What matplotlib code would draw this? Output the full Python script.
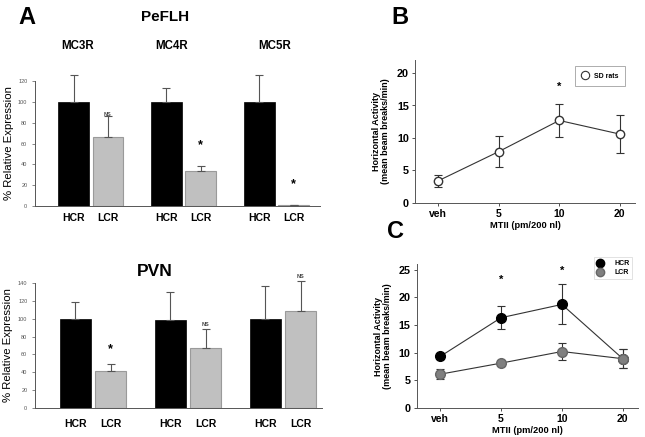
import matplotlib.pyplot as plt
from matplotlib.lines import Line2D
import numpy as np

plt.rcParams['font.family'] = ['Liberation Sans', 'DejaVu Sans']

# ---- Panel A data (% relative expression) ----
receptors = ['MC3R', 'MC4R', 'MC5R']
groups = ['HCR', 'LCR']

peflh_hcr = [100, 100, 100]
peflh_hcr_err = [26, 13.5, 26]
peflh_lcr = [66, 34, 0.5]
peflh_lcr_err = [20, 4.5, 0.3]
peflh_marks = ['NS', '*', '*']
peflh_mark_y = [88, 58, 21]

pvn_hcr = [100, 99, 100]
pvn_hcr_err = [18.5, 31, 37]
pvn_lcr = [41.5, 67, 109]
pvn_lcr_err = [7.5, 21, 33.5]
pvn_marks = ['*', 'NS', 'NS']
pvn_mark_y = [66, 94, 147]

# ---- Panels B and C data (horizontal activity) ----
doses = ['veh', '5', '10', '20']
sd_mean = [3.4, 7.9, 12.7, 10.6]
sd_err = [0.9, 2.4, 2.6, 2.9]

hcr_mean = [9.3, 16.3, 18.7, 8.9]
hcr_err = [0.4, 2.1, 3.6, 1.7]
lcr_mean = [6.1, 8.1, 10.2, 8.9]
lcr_err = [0.9, 0.5, 1.6, 1.7]

W, H = 645, 437
fig = plt.figure(figsize=(W / 100, H / 100), dpi=100)


def px_axes(left, top, right, bottom):
    return fig.add_axes([left / W, 1 - bottom / H, (right - left) / W, (bottom - top) / H])


def bar_panel(ax, hcr, hcr_err, lcr, lcr_err, marks, mark_y, ymax, xlim):
    x = np.arange(len(receptors))
    off, w = 0.185, 0.33
    ax.bar(x - off, hcr, w, color='black', edgecolor='black', linewidth=0.5)
    ax.bar(x + off, lcr, w, color='#c0c0c0', edgecolor='#9a9a9a', linewidth=0.8)
    ax.errorbar(x - off, hcr, yerr=[[0] * len(hcr), hcr_err], fmt='none', ecolor='#555555',
                elinewidth=0.8, capsize=3, capthick=0.8, clip_on=False)
    ax.errorbar(x + off, lcr, yerr=[[0] * len(lcr), lcr_err], fmt='none', ecolor='#555555',
                elinewidth=0.8, capsize=3, capthick=0.8, clip_on=False)
    for xi, m, my in zip(x, marks, mark_y):
        if m == '*':
            ax.text(xi + off, my, m, ha='center', va='center', fontsize=9, fontweight='bold')
        else:
            ax.text(xi + off, my, m, ha='center', va='center', fontsize=4, fontweight='bold', color='#444')
    ax.set_ylim(0, ymax)
    ax.set_xlim(*xlim)
    ax.set_xticks(np.concatenate([x - off, x + off]))
    ax.set_xticklabels(['HCR'] * 3 + ['LCR'] * 3, fontsize=7.5, fontweight='bold')
    ax.tick_params(axis='x', length=0, pad=5)
    ax.tick_params(axis='y', labelsize=4, colors='#555555', length=2, width=0.5)
    for s in ['top', 'right']:
        ax.spines[s].set_visible(False)
    for s in ['left', 'bottom']:
        ax.spines[s].set_color('#555555')
        ax.spines[s].set_linewidth(0.7)
    ax.set_ylabel('% Relative Expression', fontsize=8.2)
    ax.yaxis.set_label_coords(-0.075, 0.5)


# Panel A top: PeFLH
ax1 = px_axes(35, 81, 320, 206)
bar_panel(ax1, peflh_hcr, peflh_hcr_err, peflh_lcr, peflh_lcr_err,
          peflh_marks, peflh_mark_y, 120, (-0.6, 2.47))
ax1.set_yticks(range(0, 121, 20))

# Panel A bottom: PVN
ax2 = px_axes(35, 283, 322, 408)
bar_panel(ax2, pvn_hcr, pvn_hcr_err, pvn_lcr, pvn_lcr_err,
          pvn_marks, pvn_mark_y, 140, (-0.61, 2.41))
ax2.set_yticks(range(0, 141, 20))
ax2.tick_params(axis='x', pad=8)

fig.text(27 / W, 1 - 17 / H, 'A', fontsize=17, fontweight='bold', ha='center', va='center')
fig.text(165 / W, 1 - 17 / H, 'PeFLH', fontsize=11, fontweight='bold', ha='center', va='center')
for name, xp in zip(receptors, [78, 172, 275]):
    fig.text(xp / W, 1 - 46 / H, name, fontsize=8.3, fontweight='bold', ha='center', va='center')
fig.text(155 / W, 1 - 271 / H, 'PVN', fontsize=12.5, fontweight='bold', ha='center', va='center')


def line_panel(ax, ymax, yticks):
    ax.set_xlim(-0.38, 3.25)
    ax.set_ylim(0, ymax)
    ax.set_xticks(range(len(doses)))
    ax.set_xticklabels(doses, fontsize=7.5, fontweight='bold')
    ax.set_yticks(yticks)
    ax.set_yticklabels([str(t) for t in yticks], fontsize=7.8, fontweight='bold')
    ax.tick_params(length=2.5, width=0.6, colors='#333333', labelcolor='black', pad=2)
    for s in ['top', 'right']:
        ax.spines[s].set_visible(False)
    for s in ['left', 'bottom']:
        ax.spines[s].set_color('#555555')
        ax.spines[s].set_linewidth(0.7)
    ax.set_xlabel('MTII (pm/200 nl)', fontsize=6.7, fontweight='bold', labelpad=1)
    ax.set_ylabel('Horizontal Activity\n(mean beam breaks/min)', fontsize=6.5,
                  fontweight='bold', labelpad=5, linespacing=1.0)


# Panel B: SD rats
x = np.arange(len(doses))
ax3 = px_axes(415, 60, 635, 203)
ax3.errorbar(x, sd_mean, yerr=sd_err, fmt='-o', color='#333333', mfc='white', mec='#333333',
             ms=6, lw=0.8, elinewidth=0.8, capsize=3, capthick=0.8)
ax3.text(2, 17.9, '*', ha='center', va='center', fontsize=8, fontweight='bold')
line_panel(ax3, 22, [0, 5, 10, 15, 20])
sd_handle = Line2D([], [], ls='none', marker='o', mfc='white', mec='#333333', ms=6, mew=0.8)
leg = ax3.legend([sd_handle], ['SD rats'], loc='upper right', bbox_to_anchor=(0.97, 0.98),
                 frameon=True, fancybox=False, edgecolor='#888888', handlelength=1.0,
                 borderpad=0.9, prop={'size': 5, 'weight': 'bold'})
leg.get_frame().set_linewidth(0.6)
fig.text(400 / W, 1 - 17 / H, 'B', fontsize=17, fontweight='bold', ha='center', va='center')

# Panel C: HCR vs LCR
ax4 = px_axes(417, 264, 638, 408)
ax4.errorbar(x, hcr_mean, yerr=hcr_err, fmt='-o', color='#333333', mfc='black', mec='black',
             ms=7, lw=0.8, elinewidth=0.8, capsize=3, capthick=0.8)
ax4.errorbar(x, lcr_mean, yerr=lcr_err, fmt='-o', color='#333333', mfc='#808080', mec='#666666',
             ms=7, lw=0.8, elinewidth=0.8, capsize=3, capthick=0.8)
ax4.text(1, 23.2, '*', ha='center', va='center', fontsize=8, fontweight='bold')
ax4.text(2, 24.8, '*', ha='center', va='center', fontsize=8, fontweight='bold')
line_panel(ax4, 26, [0, 5, 10, 15, 20, 25])
hcr_handle = Line2D([], [], ls='none', marker='o', mfc='black', mec='black', ms=6)
lcr_handle = Line2D([], [], ls='none', marker='o', mfc='#808080', mec='#666666', ms=6)
leg = ax4.legend([hcr_handle, lcr_handle], ['HCR', 'LCR'], loc='upper right',
                 bbox_to_anchor=(0.99, 1.07), frameon=True, fancybox=False,
                 edgecolor='#cccccc', handlelength=1.0, handletextpad=1.5, borderpad=0.4,
                 labelspacing=0.3, prop={'size': 5, 'weight': 'bold'})
leg.get_frame().set_linewidth(0.5)
fig.text(395 / W, 1 - 232 / H, 'C', fontsize=17, fontweight='bold', ha='center', va='center')

fig.savefig('out.png', dpi=100)
